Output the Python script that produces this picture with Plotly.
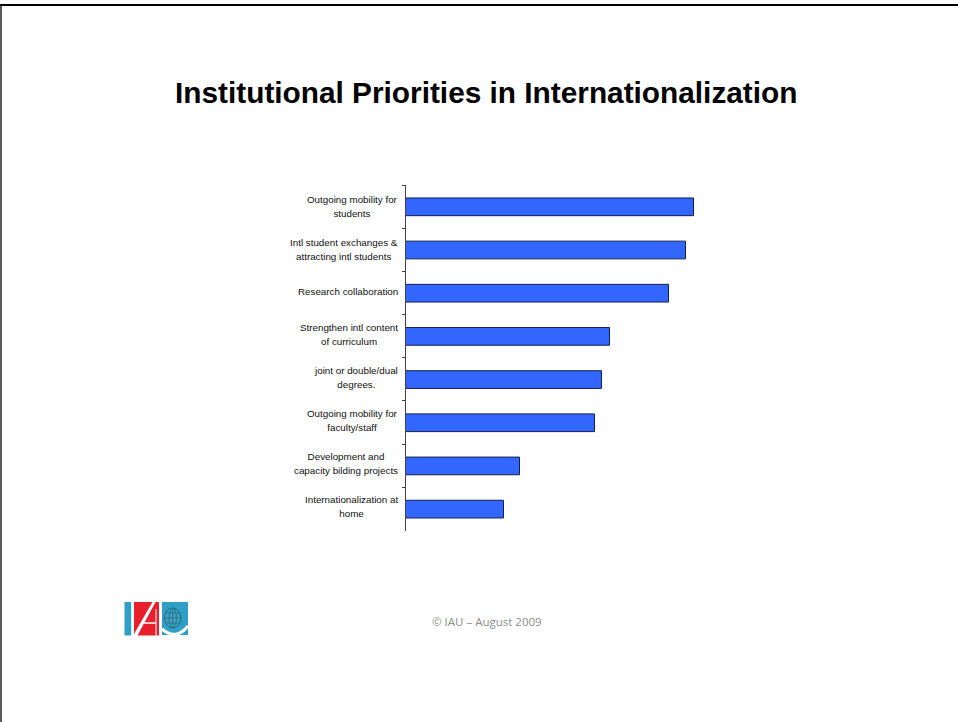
import plotly.graph_objects as go

W, H = 958, 722

TITLE = "Institutional Priorities in Internationalization"
FOOTER = "© IAU – August 2009"
categories = [
    "Outgoing mobility for<br>students",
    "Intl student exchanges &<br>attracting intl students",
    "Research collaboration",
    "Strengthen intl content<br>of curriculum",
    "joint or double/dual<br>degrees.",
    "Outgoing mobility for<br>faculty/staff",
    "Development and<br>capacity bilding projects",
    "Internationalization at<br>home",
]
values = [288, 280, 263, 204, 196, 189, 114, 98]


def px(x):
    return x / W


def py(y):
    return 1 - y / H


def poly(points, fill):
    path = "M" + " L".join(f"{px(x):.5f},{py(y):.5f}" for x, y in points) + " Z"
    return dict(type="path", xref="paper", yref="paper", path=path,
                fillcolor=fill, line=dict(width=0), layer="above")


def curve(start, ctrl, end, color, width):
    path = (f"M{px(start[0]):.5f},{py(start[1]):.5f} "
            f"Q{px(ctrl[0]):.5f},{py(ctrl[1]):.5f} {px(end[0]):.5f},{py(end[1]):.5f}")
    return dict(type="path", xref="paper", yref="paper", path=path,
                line=dict(color=color, width=width), layer="above")


def segment(x0, y0, x1, y1, color, width):
    return dict(type="line", xref="paper", yref="paper",
                x0=px(x0), y0=py(y0), x1=px(x1), y1=py(y1),
                line=dict(color=color, width=width), layer="above")


def ellipse(x0, y0, x1, y1, fill, color, width):
    return dict(type="circle", xref="paper", yref="paper",
                x0=px(x0), y0=py(y1), x1=px(x1), y1=py(y0),
                fillcolor=fill, line=dict(color=color, width=width), layer="above")


BLUE = "#2f9fc6"
RED = "#e8202e"
TEAL = "#1c6f86"

# Page frame and IAU logo, placed in page coordinates
shapes = [
    segment(0, 5, W, 5, "#000000", 2),
    segment(1, 5, 1, H, "#222222", 1.5),
    # I
    poly([(124.5, 602), (131.2, 602), (131.2, 635.5), (124.5, 635.5)], BLUE),
    # A: two red blocks split by a white diagonal, with a white crossbar
    poly([(134, 602), (152.5, 602), (134, 634)], RED),
    poly([(155.5, 602), (159, 602), (159, 635.5), (137.5, 635.5)], RED),
    segment(144, 623, 156, 623, "#ffffff", 1.5),
    segment(156, 609, 156, 635.5, "#ffffff", 1),
    # U with globe
    poly([(162, 602), (188, 602), (188, 635), (162, 635)], BLUE),
    curve((162, 629), (176, 641), (188, 626), "#ffffff", 3),
    ellipse(164.5, 608, 181, 628, "#3f9fbd", TEAL, 1),
    ellipse(169, 608, 176.5, 628, "rgba(0,0,0,0)", TEAL, 0.7),
    segment(164.5, 618, 181, 618, TEAL, 0.7),
    segment(166.5, 613, 179, 613, TEAL, 0.7),
    segment(166.5, 623, 179, 623, TEAL, 0.7),
    segment(172.75, 608, 172.75, 628, TEAL, 0.7),
]

LABEL_SIZE = 9.8    # glyph size of the category labels
LABEL_LEADING = 11.15   # outer font size, which sets the spacing between lines


def styled_label(text):
    return "<br>".join(
        f'<span style="font-size:{LABEL_SIZE}px">{line}</span>'
        for line in text.split("<br>")
    )


# Category labels sit left of the axis, right-justified as centred blocks,
# drifting slightly upward down the list
annotations = [
    dict(x=0, y=c, xref="x", yref="y", text=styled_label(c), showarrow=False,
         xanchor="right", yanchor="middle", align="center",
         xshift=-6, yshift=0.5 + i * 0.27,
         font=dict(family="Liberation Sans", size=LABEL_LEADING, color="#111111"))
    for i, c in enumerate(categories)
]
annotations += [
    dict(x=px(486), y=py(92.5), xref="paper", yref="paper", text=f"<b>{TITLE}</b>",
         showarrow=False, xanchor="center", yanchor="middle",
         font=dict(family="Liberation Sans", size=29.8, color="#000000")),
    dict(x=px(486.5), y=py(621.5), xref="paper", yref="paper", text=FOOTER,
         showarrow=False, xanchor="center", yanchor="middle",
         font=dict(family="Open Sans", size=11.5, color="#8c8c8c")),
]

fig = go.Figure(
    go.Bar(
        x=values,
        y=categories,
        orientation="h",
        width=0.41,
        offset=-0.2,
        marker=dict(color="#3366ff", line=dict(color="#14204f", width=1)),
        hoverinfo="skip",
    )
)

fig.update_layout(
    width=W,
    height=H,
    margin=dict(l=0, r=0, t=0, b=0),
    paper_bgcolor="#ffffff",
    plot_bgcolor="#ffffff",
    showlegend=False,
    shapes=shapes,
    annotations=annotations,
    xaxis=dict(domain=[px(405.5), px(705.5)], range=[0, 300], visible=False),
    yaxis=dict(
        domain=[py(530.5), py(185)],
        type="category",
        categoryorder="array",
        categoryarray=categories,
        range=[7.5, -0.5],
        tickson="boundaries",
        ticks="outside",
        ticklen=3,
        tickwidth=1,
        tickcolor="#444444",
        showticklabels=False,
        showline=True,
        linecolor="#444444",
        linewidth=1,
        showgrid=False,
        zeroline=False,
    ),
)

fig.write_html("out.html", config={"displayModeBar": False})
